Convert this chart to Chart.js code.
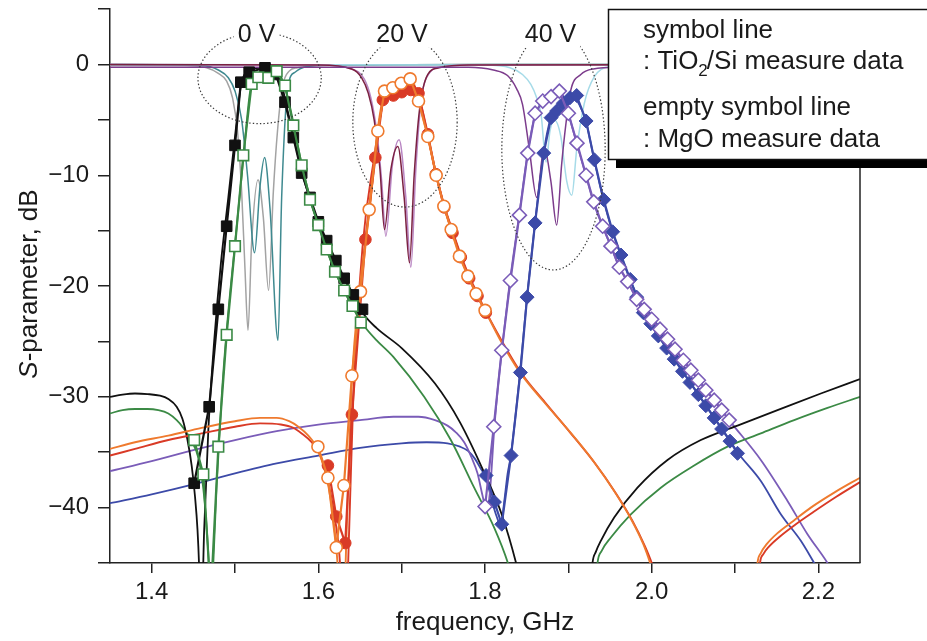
<!DOCTYPE html>
<html>
<head>
<meta charset="utf-8">
<script src="https://cdn.jsdelivr.net/npm/chart.js@4.4.1/dist/chart.umd.min.js"></script>
<style>
  html, body { margin: 0; padding: 0; background: #fff; }
  canvas { display: block; }
</style>
</head>
<body>
<canvas id="chart-sparam" width="927" height="641"></canvas>
<script>
// ---- axis ticks ----
const xTicks = [1.4, 1.5, 1.6, 1.7, 1.8, 1.9, 2.0, 2.1, 2.2];
const xTickLabels = ['1.4', '', '1.6', '', '1.8', '', '2.0', '', '2.2'];
const yTicks = [5, 0, -5, -10, -15, -20, -25, -30, -35, -40, -45];
const yTickLabels = ['', '0', '', '\u221210', '', '\u221220', '', '\u221230', '', '\u221240', ''];

// ---- measured data (GHz, dB) ----
const tioSq0F = [1.451, 1.469, 1.480, 1.490, 1.500, 1.507, 1.517, 1.536, 1.549, 1.560, 1.570, 1.580, 1.590, 1.600, 1.610, 1.621, 1.631, 1.642, 1.653];
const tioSq0DB = [-37.8, -30.9, -22.1, -14.6, -7.3, -1.6, -0.7, -0.3, -0.9, -3.4, -6.6, -9.8, -12.0, -14.2, -15.9, -17.7, -19.3, -20.8, -22.1];

const mgoSq0F = [1.451, 1.462, 1.471, 1.480, 1.490, 1.500, 1.510, 1.520, 1.528, 1.540, 1.550, 1.560, 1.570, 1.580, 1.590, 1.600, 1.610, 1.620, 1.631, 1.641, 1.651];
const mgoSq0DB = [-33.9, -37.0, -48, -34.5, -24.4, -16.4, -8.2, -1.75, -1.15, -1.2, -0.6, -1.9, -5.5, -9.1, -12.2, -14.5, -16.7, -18.7, -20.4, -21.8, -23.3];

const tioCirc20F = [1.6115, 1.6215, 1.6323, 1.6403, 1.6565, 1.6684, 1.6774, 1.690, 1.700, 1.711, 1.7202, 1.7314, 1.741, 1.751, 1.761, 1.771, 1.781, 1.791, 1.801];
const tioCirc20DB = [-36.2, -40.8, -43.2, -31.6, -15.8, -8.4, -3.2, -2.8, -2.5, -2.3, -2.6, -6.3, -9.9, -12.9, -15.2, -17.4, -19.3, -20.9, -22.4];

const mgoCirc20F = [1.5995, 1.6115, 1.6215, 1.6307, 1.6403, 1.6506, 1.661, 1.6714, 1.6794, 1.6894, 1.6994, 1.7102, 1.7202, 1.7314, 1.7414, 1.7506, 1.7594, 1.7693, 1.7794, 1.7893, 1.8001];
const mgoCirc20DB = [-34.5, -37.3, -43.6, -38.0, -28.1, -20.5, -13.1, -6.0, -2.4, -2.1, -1.7, -1.3, -3.3, -6.5, -10.0, -12.8, -14.9, -17.3, -19.1, -20.7, -22.2];

const tioDia40F = [1.8013, 1.8113, 1.8201, 1.8313, 1.8425, 1.8505, 1.8601, 1.8705, 1.8793, 1.886, 1.894, 1.902, 1.910, 1.9213, 1.9312, 1.9424, 1.9532, 1.9632, 1.9743, 1.982, 1.990, 1.999, 2.008, 2.018, 2.027, 2.037, 2.046, 2.056, 2.065, 2.075, 2.084, 2.094, 2.103];
const tioDia40DB = [-37.1, -39.5, -41.5, -35.3, -27.8, -21.0, -14.3, -8.0, -4.8, -4.2, -3.5, -3.0, -2.8, -5.1, -8.6, -12.2, -15.1, -17.2, -19.4, -21.0, -22.4, -23.4, -24.5, -25.6, -26.6, -27.7, -28.7, -29.8, -30.8, -31.9, -32.9, -34.0, -35.1];

const mgoDia40F = [1.8001, 1.8105, 1.8201, 1.8305, 1.8413, 1.8513, 1.8601, 1.8693, 1.8793, 1.8892, 1.9000, 1.9104, 1.9213, 1.9305, 1.9412, 1.9512, 1.9612, 1.9712, 1.982, 1.991, 2.000, 2.010, 2.019, 2.028, 2.038, 2.047, 2.056, 2.065, 2.075, 2.084, 2.093];
const mgoDia40DB = [-39.9, -32.7, -25.8, -19.5, -13.6, -8.0, -4.4, -3.3, -2.9, -2.4, -4.4, -7.1, -10.0, -12.4, -14.6, -16.4, -18.3, -19.6, -21.2, -22.1, -23.0, -23.9, -24.8, -25.7, -26.7, -27.6, -28.5, -29.4, -30.3, -31.2, -32.1];

// ---- simulated S21 (null = break below the axis) ----
const simBlackF = [1.35, 1.365, 1.38, 1.395, 1.41, 1.42, 1.43, 1.437, 1.443, 1.448, 1.452, 1.455, 1.457, 1.459, 1.463, 1.468, 1.475, 1.483, 1.492, 1.50, 1.507, 1.515, 1.53, 1.545, 1.555, 1.562, 1.57, 1.58, 1.59, 1.60, 1.615, 1.63, 1.645, 1.655, 1.67, 1.70, 1.74, 1.77, 1.80, 1.82, 1.838, 1.845, 1.88, 1.926, 1.929, 1.933, 1.939, 1.955, 1.983, 2.019, 2.059, 2.103, 2.151, 2.203, 2.25];
const simBlackDB = [-30.0, -29.8, -29.7, -29.75, -29.9, -30.2, -30.9, -32.0, -33.9, -36.2, -39.0, -42.0, -45.5, -52, -42, -33, -25, -18, -12, -6.5, -2.0, -0.6, -0.3, -0.4, -1.5, -3.8, -6.4, -9.6, -12.2, -14.3, -17.0, -19.2, -21.2, -22.6, -23.8, -25.6, -28.8, -32.3, -37.0, -40.6, -45.2, -47.5, null, -48, -45, -44.0, -43.0, -40.9, -38.2, -35.7, -33.9, -32.6, -31.2, -29.7, -28.4];

const simGreenF = [1.35, 1.365, 1.38, 1.395, 1.408, 1.42, 1.43, 1.438, 1.448, 1.456, 1.462, 1.466, 1.4685, 1.4705, 1.472, 1.474, 1.478, 1.484, 1.490, 1.50, 1.51, 1.518, 1.525, 1.54, 1.55, 1.558, 1.565, 1.572, 1.58, 1.59, 1.60, 1.615, 1.63, 1.645, 1.655, 1.67, 1.69, 1.727, 1.759, 1.787, 1.811, 1.8275, 1.834, 1.88, 1.932, 1.935, 1.94, 1.951, 1.975, 2.011, 2.051, 2.091, 2.131, 2.171, 2.211, 2.25];
const simGreenDB = [-31.5, -31.2, -31.1, -31.1, -31.2, -31.5, -32.1, -32.8, -34.0, -35.5, -38.3, -41.8, -45, -50, -50, -45, -38, -30, -24.0, -16.2, -8.5, -2.5, -1.0, -0.8, -0.6, -1.6, -3.5, -6.0, -9.0, -12.0, -14.5, -17.7, -20.3, -22.4, -23.6, -24.9, -26.4, -30.0, -33.9, -38.2, -41.8, -45, -46.8, null, -48, -45, -43.9, -42.7, -40.6, -38.2, -36.2, -34.5, -33.3, -32.1, -31.0, -30.0];

const simOrangeF = [1.35, 1.38, 1.42, 1.46, 1.50, 1.53, 1.55, 1.565, 1.576, 1.588, 1.596, 1.604, 1.612, 1.618, 1.623, 1.626, 1.630, 1.634, 1.640, 1.650, 1.662, 1.671, 1.68, 1.69, 1.70, 1.71, 1.715, 1.72, 1.731, 1.741, 1.751, 1.76, 1.77, 1.78, 1.79, 1.80, 1.82, 1.841, 1.87, 1.90, 1.93, 1.955, 1.975, 1.99, 1.999, 2.004, 2.06, 2.124, 2.127, 2.131, 2.138, 2.151, 2.17, 2.191, 2.22, 2.25];
const simOrangeDB = [-34.7, -34.1, -33.5, -32.8, -32.2, -31.9, -31.9, -32.2, -32.7, -33.5, -34.3, -35.7, -38.0, -41.0, -45, -50, -50, -42, -29, -20, -12.8, -6.0, -2.5, -2.0, -1.6, -1.4, -1.8, -3.2, -6.4, -9.9, -12.8, -15.0, -17.2, -19.1, -20.7, -22.2, -25.1, -27.7, -30.4, -33.0, -35.8, -38.5, -41.0, -43.3, -45.2, -46.5, null, -48, -45, -44.1, -43.3, -42.3, -41.2, -40.0, -38.6, -37.3];

const simRedF = [1.35, 1.38, 1.42, 1.46, 1.50, 1.53, 1.555, 1.57, 1.58, 1.592, 1.603, 1.612, 1.62, 1.626, 1.629, 1.633, 1.637, 1.642, 1.653, 1.667, 1.679, 1.69, 1.70, 1.712, 1.72, 1.731, 1.741, 1.751, 1.761, 1.771, 1.781, 1.791, 1.801, 1.822, 1.843, 1.872, 1.902, 1.932, 1.957, 1.977, 1.992, 2.001, 2.006, 2.06, 2.127, 2.13, 2.134, 2.141, 2.154, 2.173, 2.194, 2.222, 2.25];
const simRedDB = [-35.3, -34.7, -33.9, -33.3, -32.7, -32.4, -32.5, -32.8, -33.3, -34.1, -35.4, -37.8, -41.0, -45, -50, -50, -42, -30, -16.5, -8.4, -3.2, -2.7, -2.4, -2.2, -2.8, -6.3, -9.8, -12.7, -15.0, -17.2, -19.1, -20.7, -22.3, -25.2, -27.8, -30.5, -33.2, -36.0, -38.7, -41.2, -43.5, -45.2, -46.5, null, -48, -45, -44.2, -43.5, -42.6, -41.5, -40.4, -39.0, -37.7];

const simPurpleF = [1.35, 1.40, 1.45, 1.50, 1.55, 1.60, 1.65, 1.69, 1.72, 1.74, 1.755, 1.765, 1.775, 1.784, 1.791, 1.797, 1.802, 1.806, 1.811, 1.815, 1.82, 1.83, 1.841, 1.851, 1.86, 1.87, 1.88, 1.889, 1.895, 1.90, 1.91, 1.921, 1.93, 1.941, 1.951, 1.961, 1.971, 1.983, 2.01, 2.04, 2.07, 2.093, 2.131, 2.163, 2.187, 2.211, 2.22];
const simPurpleDB = [-36.7, -35.8, -34.8, -33.9, -33.1, -32.5, -32.1, -31.8, -31.8, -32.1, -32.6, -33.2, -34.1, -35.5, -36.9, -38.9, -40.3, -38.5, -33.0, -29.5, -26, -19.5, -13.6, -8.1, -4.6, -3.3, -2.9, -2.5, -3.0, -4.4, -7.1, -10.0, -12.4, -14.6, -16.4, -18.3, -19.6, -21.2, -23.9, -26.9, -29.8, -32.1, -35.7, -39.4, -42.4, -45, -46.2];

const simBlueF = [1.35, 1.40, 1.45, 1.50, 1.55, 1.60, 1.65, 1.70, 1.73, 1.755, 1.77, 1.78, 1.788, 1.795, 1.801, 1.808, 1.814, 1.819, 1.823, 1.827, 1.831, 1.842, 1.85, 1.86, 1.87, 1.879, 1.888, 1.898, 1.906, 1.913, 1.921, 1.931, 1.942, 1.953, 1.963, 1.974, 2.00, 2.03, 2.06, 2.09, 2.103, 2.131, 2.155, 2.179, 2.195, 2.205];
const simBlueDB = [-39.6, -38.8, -37.9, -36.9, -36.0, -35.3, -34.6, -34.2, -34.1, -34.2, -34.5, -34.9, -35.6, -36.5, -37.3, -39.3, -40.8, -41.6, -39.5, -37.0, -35.3, -27.8, -21.3, -14.3, -8.1, -4.8, -3.6, -3.0, -3.0, -3.6, -5.1, -8.6, -12.2, -15.1, -17.2, -19.4, -23.5, -26.9, -30.2, -33.5, -35.0, -37.6, -40.6, -43.0, -45, -46.3];

// ---- simulated S11 ----
const grayS11F = [1.35, 1.44, 1.466, 1.48, 1.49, 1.497, 1.503, 1.508, 1.512, 1.5156, 1.520, 1.5276, 1.534, 1.5403, 1.546, 1.551, 1.557, 1.565, 1.575, 1.60, 1.80, 2.25];
const grayS11DB = [-0.1, -0.1, -0.3, -0.8, -1.5, -3.0, -6.0, -11.5, -18.5, -24.0, -16.0, -10.4, -13.8, -20.4, -11.5, -6.0, -2.0, -0.6, -0.3, -0.1, 0, 0];

const tealS11F = [1.35, 1.46, 1.48, 1.492, 1.50, 1.508, 1.515, 1.5235, 1.530, 1.5355, 1.542, 1.5516, 1.556, 1.5636, 1.572, 1.585, 1.62, 1.80, 2.25];
const tealS11DB = [0, -0.1, -0.5, -1.2, -2.4, -5.0, -10.0, -17.0, -11.0, -8.4, -13.0, -24.9, -12.0, -2.0, -0.7, -0.2, -0.05, 0, 0];

const maroonS11F = [1.35, 1.60, 1.64, 1.652, 1.660, 1.667, 1.674, 1.6794, 1.687, 1.6954, 1.703, 1.7094, 1.715, 1.7214, 1.7314, 1.745, 1.78, 2.25];
const maroonS11DB = [0, -0.05, -0.4, -1.2, -2.6, -5.0, -9.5, -14.9, -9.5, -7.4, -12.0, -17.9, -10.0, -4.1, -0.9, -0.3, -0.05, 0];

const mauveS11F = [1.35, 1.60, 1.64, 1.655, 1.663, 1.670, 1.676, 1.681, 1.689, 1.697, 1.705, 1.711, 1.717, 1.723, 1.733, 1.75, 1.78, 2.25];
const mauveS11DB = [0, -0.05, -0.4, -1.3, -3.0, -6.0, -10.5, -15.5, -9.0, -6.8, -12.0, -18.3, -9.5, -3.5, -0.8, -0.2, -0.05, 0];

const purpleS11F = [1.35, 1.78, 1.81, 1.827, 1.838, 1.845, 1.8533, 1.862, 1.871, 1.879, 1.886, 1.892, 1.8972, 1.903, 1.915, 1.93, 1.96, 2.25];
const purpleS11DB = [-0.25, -0.25, -0.5, -1.0, -2.2, -3.6, -7.7, -12.0, -7.5, -10.5, -14.5, -9.0, -5.3, -2.3, -0.9, -0.4, -0.25, -0.2];

const cyanS11F = [1.35, 1.80, 1.83, 1.845, 1.855, 1.862, 1.8673, 1.8733, 1.878, 1.8833, 1.891, 1.898, 1.9042, 1.91, 1.9192, 1.9312, 1.95, 2.25];
const cyanS11DB = [0, -0.05, -0.3, -0.9, -1.8, -3.0, -4.5, -8.8, -6.0, -5.0, -6.5, -10.5, -11.8, -7.7, -3.5, -1.1, -0.2, 0];

// ---- dotted ellipse annotations (data units) ----
const ellipseF = [1.5295, 1.704, 1.8822];
const ellipseDB = [-1.23, -5.2, -7.69];
const ellipseRF = [0.074, 0.0626, 0.062];
const ellipseRDB = [4.11, 7.67, 10.86];
const ellipseLabels = ['0 V', '20 V', '40 V'];
const ellipseLabelDB = 2.7;

const FONT = '"Liberation Sans", Arial, Helvetica, sans-serif';
const INK = '#1a1a1a';

const C = {
  black: '#111111', green: '#3b8a45', red: '#d93a26', orange: '#ef7a2e',
  blue: '#3c4aa8', purple: '#7a5cb8',
  gray: '#a3a3a3', teal: '#3f8a90', maroon: '#7b2141', mauve: '#b884c2',
  plum: '#7c3c8c', cyan: '#a6dbe8'
};

function pts(f, db) {
  return f.map((v, i) => ({ x: v, y: db[i] }));
}

function measured(f, db, color, style, radius, hollow) {
  return {
    data: pts(f, db),
    borderColor: color,
    borderWidth: 2.2,
    tension: 0,
    pointStyle: style,
    pointRadius: radius,
    pointHoverRadius: radius,
    pointBackgroundColor: hollow ? '#ffffff' : color,
    pointBorderColor: color,
    pointBorderWidth: hollow ? 1.6 : 1
  };
}

function curve(f, db, color, width) {
  return {
    data: pts(f, db),
    borderColor: color,
    borderWidth: width,
    pointRadius: 0,
    cubicInterpolationMode: 'monotone'
  };
}

// first dataset is drawn on top
const datasets = [
  measured(mgoSq0F, mgoSq0DB, C.green, 'rect', 7.5, true),
  measured(tioSq0F, tioSq0DB, C.black, 'rect', 7.5, false),
  measured(mgoCirc20F, mgoCirc20DB, C.orange, 'circle', 6, true),
  measured(tioCirc20F, tioCirc20DB, C.red, 'circle', 5.8, false),
  measured(mgoDia40F, mgoDia40DB, C.purple, 'rectRot', 7, true),
  measured(tioDia40F, tioDia40DB, C.blue, 'rectRot', 7, false),

  curve(purpleS11F, purpleS11DB, C.plum, 1.5),
  curve(maroonS11F, maroonS11DB, C.maroon, 1.5),
  curve(mauveS11F, mauveS11DB, C.mauve, 1.5),
  curve(cyanS11F, cyanS11DB, C.cyan, 1.5),
  curve(tealS11F, tealS11DB, C.teal, 1.5),
  curve(grayS11F, grayS11DB, C.gray, 1.5),

  curve(simOrangeF, simOrangeDB, C.orange, 1.9),
  curve(simRedF, simRedDB, C.red, 1.9),
  curve(simBlackF, simBlackDB, C.black, 1.8),
  curve(simGreenF, simGreenDB, C.green, 1.8),
  curve(simPurpleF, simPurpleDB, C.purple, 1.8),
  curve(simBlueF, simBlueDB, C.blue, 1.8)
];

// ellipses, labels, right frame, legend box, y title
const overlayPlugin = {
  id: 'overlay',
  afterDatasetsDraw(chart) {
    const { ctx, scales: { x, y } } = chart;
    ctx.save();
    ctx.strokeStyle = '#3a3a3a';
    ctx.lineWidth = 1.2;
    ctx.setLineDash([1.4, 2.2]);
    ellipseF.forEach((f, i) => {
      const cx = x.getPixelForValue(f);
      const cy = y.getPixelForValue(ellipseDB[i]);
      const rx = x.getPixelForValue(f + ellipseRF[i]) - cx;
      const ry = y.getPixelForValue(ellipseDB[i] - ellipseRDB[i]) - cy;
      ctx.beginPath();
      ctx.ellipse(cx, cy, rx, ry, 0, 0, Math.PI * 2);
      ctx.stroke();
    });
    ctx.setLineDash([]);

    ctx.font = '25px ' + FONT;
    ctx.textAlign = 'center';
    ctx.textBaseline = 'middle';
    ellipseLabels.forEach((t, i) => {
      const cx = x.getPixelForValue(ellipseF[i]) - 3;
      const cy = y.getPixelForValue(ellipseLabelDB);
      const w = ctx.measureText(t).width;
      ctx.fillStyle = '#ffffff';
      ctx.fillRect(cx - w / 2 - 4, cy - 13, w + 8, 26);
      ctx.fillStyle = INK;
      ctx.fillText(t, cx, cy + 1);
    });
    ctx.restore();
  },
  afterDraw(chart) {
    const { ctx, chartArea: a } = chart;
    ctx.save();

    // right frame line
    ctx.strokeStyle = '#222';
    ctx.lineWidth = 1.5;
    ctx.beginPath();
    ctx.moveTo(a.right, a.top);
    ctx.lineTo(a.right, a.bottom);
    ctx.stroke();

    // legend box with drop shadow
    ctx.fillStyle = '#000';
    ctx.fillRect(616, 160, 320, 8);
    ctx.fillStyle = '#fff';
    ctx.fillRect(608, 9, 330, 151);
    ctx.strokeStyle = '#111';
    ctx.lineWidth = 1.5;
    ctx.strokeRect(608.5, 9.5, 330, 150);

    ctx.fillStyle = INK;
    ctx.textAlign = 'left';
    ctx.textBaseline = 'alphabetic';
    const big = '26px ' + FONT;
    ctx.font = big;
    ctx.fillText('symbol line', 643, 38);
    let tx = 643;
    const part1 = ': TiO';
    ctx.fillText(part1, tx, 69);
    tx += ctx.measureText(part1).width;
    ctx.font = '17px ' + FONT;
    ctx.fillText('2', tx, 76);
    tx += ctx.measureText('2').width;
    ctx.font = big;
    ctx.fillText('/Si measure data', tx - 1, 69);
    ctx.fillText('empty symbol line', 643, 115);
    ctx.fillText(': MgO measure data', 643, 147);

    // y axis title with italic S
    ctx.translate(30, 284);
    ctx.rotate(-Math.PI / 2);
    ctx.textBaseline = 'middle';
    const italic = 'italic 26px ' + FONT;
    ctx.font = italic;
    const wS = ctx.measureText('S').width;
    ctx.font = big;
    const rest = '-parameter, dB';
    const wR = ctx.measureText(rest).width;
    const x0 = -(wS + wR) / 2;
    ctx.font = italic;
    ctx.fillText('S', x0, 0);
    ctx.font = big;
    ctx.fillText(rest, x0 + wS, 0);
    ctx.restore();
  }
};

const ctx = document.getElementById('chart-sparam').getContext('2d');
new Chart(ctx, {
  type: 'line',
  data: { datasets },
  options: {
    responsive: false,
    animation: false,
    devicePixelRatio: 1,
    layout: { padding: { top: 9, right: 67, left: 0, bottom: 0 } },
    plugins: { legend: { display: false }, tooltip: { enabled: false } },
    elements: { line: { fill: false, borderJoinStyle: 'round' } },
    scales: {
      x: {
        type: 'linear',
        min: 1.35,
        max: 2.25,
        afterBuildTicks: (s) => { s.ticks = xTicks.map(v => ({ value: v })); },
        afterFit: (s) => { s.height = 78; s.paddingLeft = 0; s.paddingRight = 0; },
        ticks: {
          autoSkip: false,
          maxRotation: 0,
          padding: 5,
          color: INK,
          font: { family: FONT, size: 24 },
          callback: (v, i) => xTickLabels[i]
        },
        grid: { drawOnChartArea: false, drawTicks: true, tickLength: 10, color: '#222', lineWidth: 1.5 },
        border: { display: true, color: '#222', width: 1.5 },
        title: {
          display: true,
          text: 'frequency, GHz',
          color: INK,
          font: { family: FONT, size: 26 },
          padding: { top: 0, bottom: 3 }
        }
      },
      y: {
        type: 'linear',
        min: -45,
        max: 5,
        afterBuildTicks: (s) => { s.ticks = yTicks.map(v => ({ value: v })); },
        afterFit: (s) => { s.width = 110; s.paddingTop = 0; s.paddingBottom = 0; },
        ticks: {
          autoSkip: false,
          padding: 9,
          color: INK,
          font: { family: FONT, size: 24 },
          callback: (v, i) => yTickLabels[i]
        },
        grid: { drawOnChartArea: false, drawTicks: true, tickLength: 12, color: '#222', lineWidth: 1.5 },
        border: { display: true, color: '#222', width: 1.5 }
      }
    }
  },
  plugins: [overlayPlugin]
});
</script>
</body>
</html>
